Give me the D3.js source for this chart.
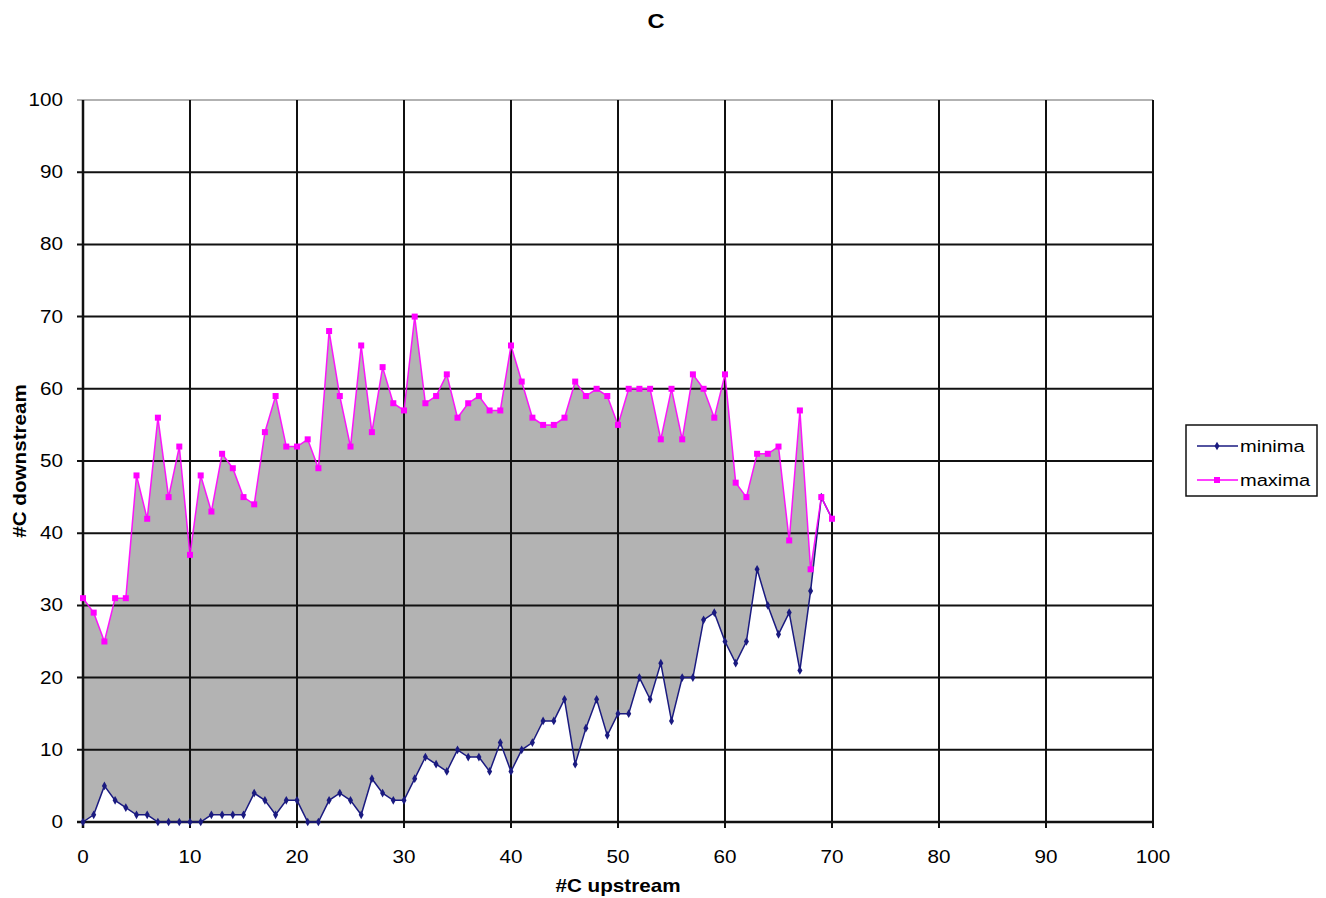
<html>
<head>
<script src="https://d3js.org/d3.v7.min.js"></script>
<style>
  body { margin: 0; background: #fff; }
  text { font-family: "Liberation Sans", Arial, sans-serif; fill: #000; }
</style>
</head>
<body>
<svg id="chart"></svg>
<script>
// x values (#C upstream)
const upstream = d3.range(0, 71);
// minima per x (0..70)
const minima = [0, 1, 5, 3, 2, 1, 1, 0, 0, 0,
                0, 0, 1, 1, 1, 1, 4, 3, 1, 3,
                3, 0, 0, 3, 4, 3, 1, 6, 4, 3,
                3, 6, 9, 8, 7, 10, 9, 9, 7, 11,
                7, 10, 11, 14, 14, 17, 8, 13, 17, 12,
                15, 15, 20, 17, 22, 14, 20, 20, 28, 29,
                25, 22, 25, 35, 30, 26, 29, 21, 32, 45,
                42];
// maxima per x (0..70)
const maxima = [31, 29, 25, 31, 31, 48, 42, 56, 45, 52,
                37, 48, 43, 51, 49, 45, 44, 54, 59, 52,
                52, 53, 49, 68, 59, 52, 66, 54, 63, 58,
                57, 70, 58, 59, 62, 56, 58, 59, 57, 57,
                66, 61, 56, 55, 55, 56, 61, 59, 60, 59,
                55, 60, 60, 60, 53, 60, 53, 62, 60, 56,
                62, 47, 45, 51, 51, 52, 39, 57, 35, 45,
                42];
const axisTicks = d3.range(0, 101, 10);
const seriesNames = ["minima", "maxima"];
const seriesColors = ["#1a1a80", "#ff00ff"];

const width = 1326, height = 898;
const margin = { top: 100, right: 173, bottom: 76, left: 83 };
// the original picture is stretched sideways, so text gets a wider scale
const stretch = 1.18;

const svg = d3.select("#chart").attr("width", width).attr("height", height);

const x = d3.scaleLinear().domain([0, 100]).range([margin.left, width - margin.right]);
const y = d3.scaleLinear().domain([0, 100]).range([height - margin.bottom, margin.top]);

const rows = upstream.map((u, i) => ({ u: u, lo: minima[i], hi: maxima[i] }));

// stretched text helper
const addText = (parent, tx, ty, str, size, anchor, bold, rot) => {
    return parent.append("text")
        .attr("transform", "translate(" + tx + "," + ty + ")" + (rot ? " rotate(" + rot + ")" : "") + " scale(" + stretch + ",1)")
        .attr("text-anchor", anchor)
        .style("font-size", size + "px")
        .style("font-weight", bold ? "bold" : "normal")
        .text(str);
};

// grey band between the two series
svg.append("path")
    .datum(rows)
    .attr("fill", "#b3b3b3")
    .attr("d", d3.area().x(d => x(d.u)).y0(d => y(d.lo)).y1(d => y(d.hi)));

// grid
svg.append("g").selectAll("line").data(axisTicks.slice(1))
    .join("line")
    .attr("x1", x(0) - 6).attr("x2", x(100))
    .attr("y1", d => y(d)).attr("y2", d => y(d))
    .attr("stroke", d => d == 100 ? "#666" : "#111")
    .attr("stroke-width", d => d == 100 ? 1.2 : 2);
svg.append("g").selectAll("line").data(axisTicks.slice(1))
    .join("line")
    .attr("y1", y(0) + 6).attr("y2", y(100))
    .attr("x1", d => x(d)).attr("x2", d => x(d))
    .attr("stroke", "#111")
    .attr("stroke-width", 2);

// axes lines
svg.append("line").attr("x1", x(0)).attr("x2", x(0)).attr("y1", y(0) + 6).attr("y2", y(100))
    .attr("stroke", "#111").attr("stroke-width", 2.5);
svg.append("line").attr("x1", x(0) - 6).attr("x2", x(100)).attr("y1", y(0)).attr("y2", y(0))
    .attr("stroke", "#111").attr("stroke-width", 2.5);

// tick labels
axisTicks.forEach(t => {
    addText(svg, x(0) - 20, y(t) + 6, t, 17.5, "end");
    addText(svg, x(t), y(0) + 41, t, 17.5, "middle");
});

// series lines + markers
const line = d3.line().x(d => x(d[0])).y(d => y(d[1]));
const minPts = upstream.map((u, i) => [u, minima[i]]);
const maxPts = upstream.map((u, i) => [u, maxima[i]]);

svg.append("path").datum(minPts).attr("fill", "none")
    .attr("stroke", seriesColors[0]).attr("stroke-width", 1.5).attr("d", line);
svg.append("g").selectAll("path").data(minPts)
    .join("path")
    .attr("transform", d => "translate(" + x(d[0]) + "," + y(d[1]) + ")")
    .attr("d", d3.symbol(d3.symbolDiamond, 22))
    .attr("fill", seriesColors[0]);

svg.append("path").datum(maxPts).attr("fill", "none")
    .attr("stroke", seriesColors[1]).attr("stroke-width", 1.5).attr("opacity", 0.9).attr("d", line);
svg.append("g").selectAll("rect").data(maxPts)
    .join("rect")
    .attr("x", d => x(d[0]) - 3).attr("y", d => y(d[1]) - 3)
    .attr("width", 6).attr("height", 6)
    .attr("fill", seriesColors[1]);

// titles
addText(svg, 656, 28, "C", 20, "middle", true);
addText(svg, (x(0) + x(100)) / 2, 892, "#C upstream", 17.5, "middle", true);
svg.append("text")
    .attr("transform", "translate(26," + y(50) + ") rotate(-90) scale(" + stretch + ",1)")
    .attr("text-anchor", "middle")
    .style("font-size", "17.5px").style("font-weight", "bold").text("#C downstream");

// legend
const legend = svg.append("g").attr("transform", "translate(1186,425)");
legend.append("rect").attr("width", 131).attr("height", 71)
    .attr("fill", "#fff").attr("stroke", "#111").attr("stroke-width", 1.5);
seriesNames.forEach((name, i) => {
    const ly = 21 + i * 34;
    legend.append("line").attr("x1", 11).attr("x2", 52).attr("y1", ly).attr("y2", ly)
        .attr("stroke", seriesColors[i]).attr("stroke-width", 1.5);
    if (i == 0) {
        legend.append("path").attr("transform", "translate(31," + ly + ")")
            .attr("d", d3.symbol(d3.symbolDiamond, 22)).attr("fill", seriesColors[i]);
    } else {
        legend.append("rect").attr("x", 28).attr("y", ly - 3).attr("width", 6).attr("height", 6)
            .attr("fill", seriesColors[i]);
    }
    addText(legend, 54, ly + 6, name, 17, "start");
});
</script>
</body>
</html>
